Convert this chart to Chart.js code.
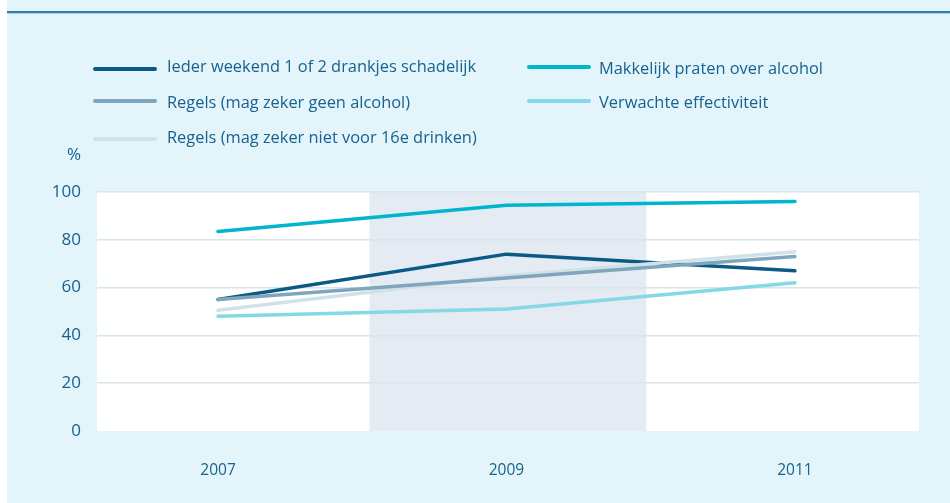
<!DOCTYPE html>
<html>
<head>
<meta charset="utf-8">
<script src="https://cdn.jsdelivr.net/npm/chart.js@4"></script>
<style>
  html, body { margin: 0; padding: 0; background: #ffffff; }
  #wrap { position: relative; width: 950px; height: 503px; overflow: hidden; background: #ffffff; }
  #bg { position: absolute; left: 7px; top: 0; width: 943px; height: 503px; background: #e3f5fa; }
  #topline { position: absolute; left: 7px; top: 11px; width: 943px; height: 2px; background: #2e7ea6; }
  #topline2 { position: absolute; left: 7px; top: 13px; width: 943px; height: 1px; background: #a8d6e6; }
  #c { position: absolute; left: 0; top: 0; }
  .lg { position: absolute; font-family: "Open Sans", sans-serif; font-size: 16.4px; color: #17628f; white-space: nowrap; line-height: 20px; }
  .sw { position: absolute; height: 4px; border-radius: 2px; }
  #pct { position: absolute; left: 67px; top: 144px; font-family: "Open Sans", sans-serif; font-size: 17px; color: #17628f; line-height: 20px; }
</style>
</head>
<body>
<div id="wrap">
  <div id="bg"></div>
  <div id="topline"></div>
  <div id="topline2"></div>
  <canvas id="c" width="950" height="503"></canvas>
  <div id="legend"></div>
  <div id="pct">%</div>
</div>
<script>
// ---- data ----
const years = [2007, 2009, 2011];
const seriesNames = [
  "Ieder weekend 1 of 2 drankjes schadelijk",
  "Makkelijk praten over alcohol",
  "Regels (mag zeker geen alcohol)",
  "Verwachte effectiviteit",
  "Regels (mag zeker niet voor 16e drinken)"
];
const iederWeekend = [55, 74, 67];
const makkelijkPraten = [83.5, 94.5, 96];
const regelsGeenAlcohol = [55, 64, 73];
const verwachteEffectiviteit = [48, 51, 62];
const regelsNiet16 = [50.5, 65, 75];
const yTicks = [0, 20, 40, 60, 80, 100];
const xTicks = [2007, 2009, 2011];
const shadedPeriod = [2008.05, 2009.97];

const colors = ["#0b5a86", "#00b5cc", "#7ea7be", "#84d9e5", "#d0e1e8"];
const seriesValues = [iederWeekend, makkelijkPraten, regelsGeenAlcohol, verwachteEffectiviteit, regelsNiet16];
const drawOrder = [5, 4, 1, 3, 2]; // higher drawn first

// ---- legend (HTML) ----
const legendPos = [
  {sx: 93, sy: 67, tx: 167, ty: 56},
  {sx: 527, sy: 65, tx: 599, ty: 58},
  {sx: 93, sy: 99, tx: 167, ty: 92},
  {sx: 527, sy: 99, tx: 599, ty: 92},
  {sx: 93, sy: 137, tx: 167, ty: 127}
];
const legend = document.getElementById('legend');
seriesNames.forEach((n, i) => {
  const p = legendPos[i];
  const sw = document.createElement('div');
  sw.className = 'sw';
  sw.style.left = p.sx + 'px'; sw.style.top = p.sy + 'px'; sw.style.width = '64px';
  sw.style.background = colors[i];
  legend.appendChild(sw);
  const t = document.createElement('div');
  t.className = 'lg';
  t.style.left = p.tx + 'px'; t.style.top = p.ty + 'px';
  t.textContent = n;
  legend.appendChild(t);
});

// ---- chart ----
const bgPlugin = {
  id: 'bgPlugin',
  beforeDraw(chart) {
    const {ctx, chartArea: a, scales} = chart;
    ctx.save();
    ctx.fillStyle = '#ffffff';
    ctx.fillRect(a.left, a.top, a.right - a.left, a.bottom - a.top);
    const x0 = scales.x.getPixelForValue(shadedPeriod[0]);
    const x1 = scales.x.getPixelForValue(shadedPeriod[1]);
    ctx.fillStyle = '#e4ebf2';
    ctx.fillRect(x0, a.top, x1 - x0, a.bottom - a.top);
    ctx.restore();
  }
};

new Chart(document.getElementById('c'), {
  type: 'line',
  data: {
    datasets: seriesNames.map((n, i) => ({
      label: n,
      data: years.map((y, j) => ({x: y, y: seriesValues[i][j]})),
      borderColor: colors[i],
      borderWidth: 3.5,
      pointRadius: 0,
      tension: 0,
      fill: false,
      borderCapStyle: 'round',
      borderJoinStyle: 'round',
      order: drawOrder[i]
    }))
  },
  options: {
    responsive: false,
    devicePixelRatio: 1,
    animation: false,
    layout: { padding: { top: 192, right: 31, bottom: 0, left: 0 } },
    plugins: { legend: { display: false }, tooltip: { enabled: false } },
    scales: {
      x: {
        type: 'linear',
        min: 2006.161,
        max: 2011.86,
        afterBuildTicks(s) { s.ticks = xTicks.map(v => ({value: v})); },
        afterFit(s) { s.height = 72; },
        grid: { display: false },
        border: { display: false },
        ticks: {
          padding: 22,
          color: '#17628f',
          font: { family: 'Open Sans', size: 15.5 },
          callback: v => String(v)
        }
      },
      y: {
        min: 0, max: 100,
        afterBuildTicks(s) { s.ticks = yTicks.map(v => ({value: v})); },
        afterFit(s) { s.width = 97; },
        border: { display: false },
        grid: {
          drawTicks: false,
          lineWidth: 1.5,
          color: c => (c.tick && c.tick.value === 0) ? 'rgba(0,0,0,0)' : '#d8e5ea'
        },
        ticks: {
          padding: 16,
          color: '#17628f',
          font: { family: 'Open Sans', size: 17 }
        }
      }
    }
  },
  plugins: [bgPlugin]
});
</script>
</body>
</html>
